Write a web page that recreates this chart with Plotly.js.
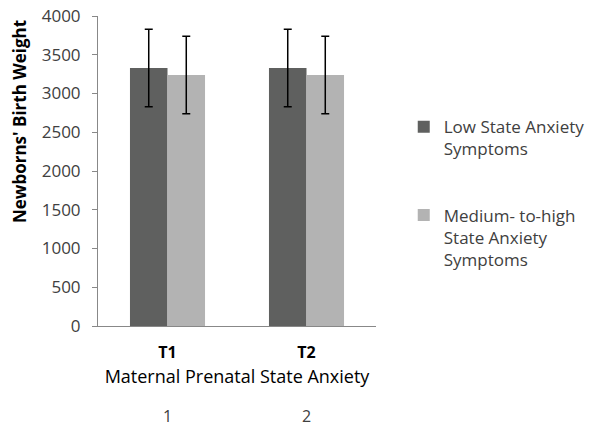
<!DOCTYPE html>
<html><head><meta charset="utf-8">
<script src="https://cdn.plot.ly/plotly-3.0.1.min.js"></script>
<style>body{margin:0;padding:0;background:#fff}</style>
</head><body>
<div id="chart" style="width:592px;height:428px"></div>
<script>
const categories = ["T1", "T2"];
const lowValues = [3330, 3330];
const lowErrors = [500, 500];
const highValues = [3240, 3240];
const highErrors = [500, 500];
const extraLabels = ["1", "2"];
const seriesNames = ["Low State Anxiety<br>Symptoms", "Medium- to-high<br>State Anxiety<br>Symptoms"];
const yTitle = "Newborns' Birth Weight";
const xTitle = "Maternal Prenatal State Anxiety";

const FONT = "'Open Sans', sans-serif";
const err = arr => ({type: "data", array: arr, visible: true, color: "#000", thickness: 1.5, width: 4});

const traces = [
  {type: "bar", x: categories, y: lowValues, name: seriesNames[0], marker: {color: "#5f605f"}, error_y: err(lowErrors), legendgroup: "a"},
  {type: "bar", x: categories, y: highValues, name: seriesNames[1], marker: {color: "#b3b3b3"}, error_y: err(highErrors), legendgroup: "b"}
];

const layout = {
  width: 592, height: 428,
  margin: {l: 98, r: 216, t: 16, b: 102, autoexpand: false},
  paper_bgcolor: "#fff", plot_bgcolor: "#fff",
  font: {family: FONT, size: 16, color: "#404040"},
  barmode: "group", bargap: 0.46, bargroupgap: 0,
  showlegend: true,
  legend: {xref: "container", yref: "container", x: 0.682, y: 0.745, xanchor: "left", yanchor: "top", valign: "top",
    font: {family: FONT, size: 17, color: "#404040"}, traceorder: "grouped", tracegroupgap: 41, itemwidth: 30},
  xaxis: {
    type: "category", range: [-0.5, 1.5], automargin: false,
    showline: true, linecolor: "#888", linewidth: 1,
    ticks: "", ticklabelstandoff: 12,
    tickfont: {family: FONT, size: 16, color: "#000", weight: "bold"},
    title: {text: xTitle, font: {family: FONT, size: 18, color: "#000"}, standoff: 8},
    showgrid: false, zeroline: false
  },
  yaxis: {
    range: [0, 4000], tickvals: [0,500,1000,1500,2000,2500,3000,3500,4000], automargin: false,
    showline: true, linecolor: "#888", linewidth: 1,
    ticks: "outside", ticklen: 5, tickcolor: "#888", ticklabelstandoff: 8,
    tickfont: {family: FONT, size: 17, color: "#404040"},
    showgrid: false, zeroline: false
  },
  annotations: extraLabels.map((t, i) => ({
    text: t, x: categories[i], xref: "x", y: (326 - 416) / 310, yref: "paper", yanchor: "middle",
    showarrow: false, font: {family: FONT, size: 16, color: "#404040"}
  })).concat([{
    text: "<b>" + yTitle + "</b>", textangle: -90, xref: "paper", yref: "paper",
    x: (19 - 98) / 278, y: (326 - 122) / 310, xanchor: "center", yanchor: "middle",
    showarrow: false, font: {family: FONT, size: 17, color: "#000"}
  }])
};

Plotly.newPlot("chart", traces, layout, {displayModeBar: false, staticPlot: true});
</script>
</body></html>
